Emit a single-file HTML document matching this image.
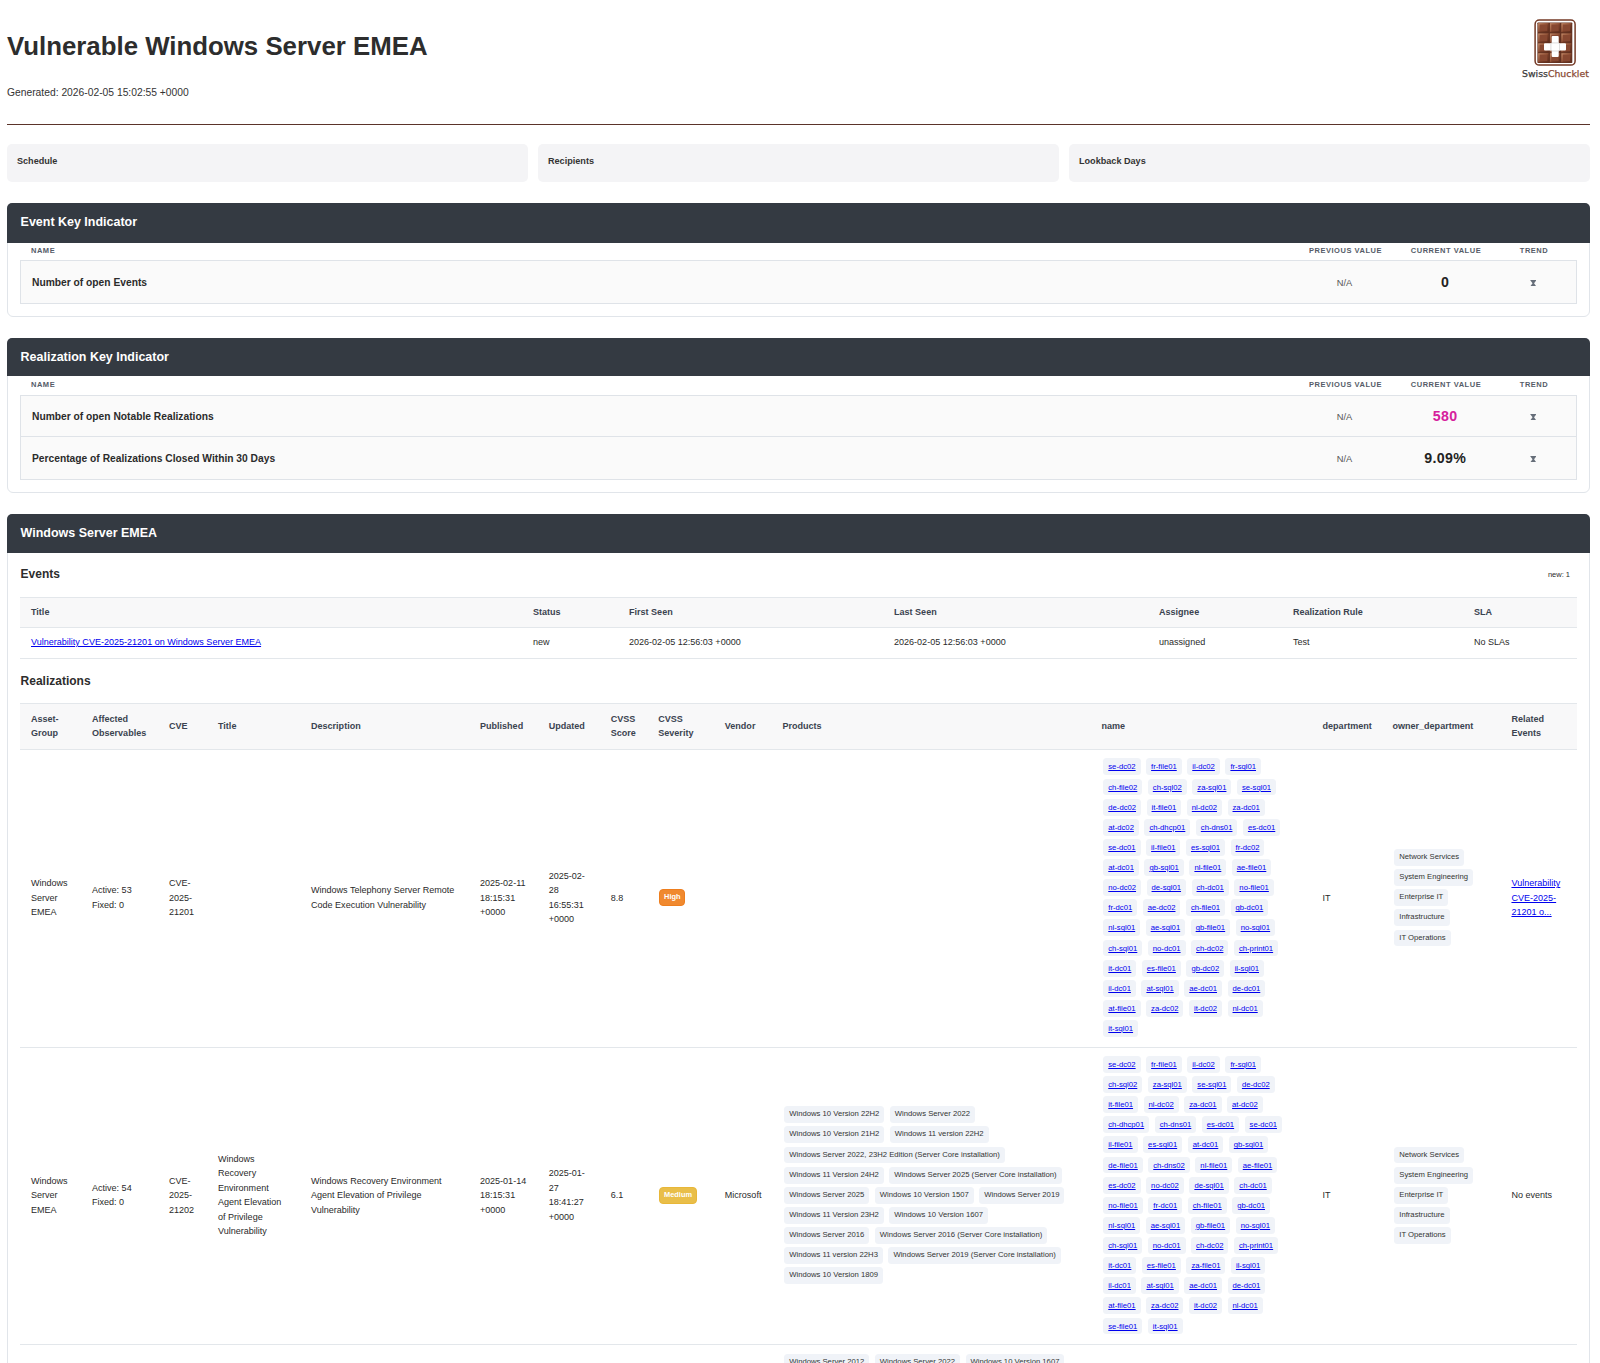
<!DOCTYPE html>
<html lang="en"><head><meta charset="utf-8"><title>Vulnerable Windows Server EMEA</title>
<style>
*{box-sizing:border-box}
html,body{margin:0;padding:0;background:#fff}
body{font-family:"Liberation Sans",sans-serif;color:#2f2f2f;width:1600px;height:1363px;overflow:hidden;position:relative}
#wrap{position:absolute;left:7px;top:0;width:1583px}
h1{margin:0;position:absolute;left:0;top:28.6px;font-size:25.82px;line-height:34px;font-weight:bold;color:#2d2d2d;white-space:nowrap}
.gen{position:absolute;left:0;top:85.6px;font-size:10.3px;line-height:13px;color:#333}
.logo{position:absolute;left:1503px;top:9px}
.hr{position:absolute;left:0;top:124px;width:1583px;height:1px;background:#5b342a}
.infos{position:absolute;left:0;top:144px;width:1583px;display:flex;gap:10px}
.info{flex:1;height:38px;background:#f4f4f6;border-radius:5px;padding:12.3px 10px 0 10px;font-size:9.1px;font-weight:bold;color:#333;line-height:11px}
.card{position:absolute;left:0;width:1583px;border:1px solid #e1e5ea;border-radius:6px;background:#fff}
.chead{height:39px;background:#343a42;color:#fff;font-weight:bold;font-size:12.47px;line-height:37.4px;padding-left:13.6px;margin:-1px -1px 0 -1px;border-radius:5px 5px 0 0}
.cbody{padding:0 12px}
.khead{display:grid;grid-template-columns:1fr 89px 89px 64px;column-gap:11.5px;padding:0 11px 3px 11px;height:18px;align-items:center;font-size:7.5px;font-weight:bold;letter-spacing:.52px;color:#555c68}
.khead .c{text-align:center}
.kbox{border:1px solid #dfe3e8;background:#fafafa}
.krow{display:grid;grid-template-columns:1fr 89px 89px 64px;column-gap:11.5px;padding:0 11px;height:42px;align-items:center}
.k2 .krow{height:40px}
.k2 .krow + .krow{border-top:1px solid #dfe3e8;height:43px}
.kname{font-size:10.25px;font-weight:bold;color:#2b2b2b}
.kprev{font-size:9.3px;color:#555;text-align:center;padding-top:2px}
.kcur{padding-bottom:1px;padding-left:0.35px;letter-spacing:0.35px;font-size:14.2px;font-weight:bold;color:#222;text-align:center}
.kcur.mag{color:#d6209c}
.ktrend{text-align:center;line-height:0;padding-top:2.4px;padding-left:0.2px}
h3{margin:0;font-size:12px;font-weight:bold;color:#2d2d2d;line-height:16px}
table{border-collapse:separate;border-spacing:0;table-layout:fixed;width:1557px;font-size:9.04px;color:#333}
th{background:#f8f8f9;text-align:left;font-weight:bold;color:#3b4350;padding:0 11px 1.4px 11px;line-height:14.2px;border-top:1px solid #e3e7eb;border-bottom:1px solid #e3e7eb;vertical-align:middle}
td{color:#2a2a2a;padding:0 11px 1.4px 11px;line-height:14.4px;border-bottom:1px solid #e3e7eb;vertical-align:middle}
a{color:#0000ee;text-decoration:underline}
.tags{display:flex;flex-wrap:wrap;column-gap:1.9px}
.tag{display:block;background:#f0f3f8;border-radius:3.5px;padding:0 5px 0 5px;margin:0.85px 1.8px 2.4px 1.8px;height:16.9px;line-height:15.6px;font-size:7.7px;color:#333;white-space:nowrap}
.sev{display:inline-block;vertical-align:middle;color:#fff;font-weight:bold;font-size:7.4px;line-height:14.6px;height:17.2px;padding:0 4px;border-radius:4px;margin-left:1px;border:1px solid}
.sev.high{background:#f0892f;border-color:#ee7e1e;padding:0 3.8px}
.sev.med{background:#e9be49;border-color:#e8b738;padding:0 3.8px}
.col .tags{flex-direction:column;align-items:flex-start}
td.tc{padding-bottom:0}
.tag a{position:relative;top:1px}
table.re td:nth-child(6){padding-right:8px}
</style></head><body><div id="wrap">
<h1>Vulnerable Windows Server EMEA</h1>
<div class="gen">Generated: 2026-02-05 15:02:55 +0000</div>
<svg class="logo" width="90" height="74" viewBox="0 0 90 74">
<defs>
<linearGradient id="cg" x1="0" y1="0" x2="1" y2="1"><stop offset="0" stop-color="#c48a68"/><stop offset="0.45" stop-color="#9a5a3d"/><stop offset="0.55" stop-color="#7a3f29"/><stop offset="1" stop-color="#5f2e1d"/></linearGradient>
</defs>
<rect x="25.1" y="11" width="40" height="45.1" rx="4.2" ry="4.2" fill="#fff" stroke="#743a26" stroke-width="1.5"/>
<rect x="27.4" y="13.4" width="34.9" height="40.7" rx="0.8" fill="#5f2f1f"/>
<rect x="28.15" y="14.1" width="10.6" height="9.2" fill="url(#cg)"/><rect x="29.65" y="15.5" width="7.6" height="6.3999999999999995" fill="#874831"/><rect x="39.9" y="14.1" width="10.3" height="9.2" fill="url(#cg)"/><rect x="41.4" y="15.5" width="7.300000000000001" height="6.3999999999999995" fill="#874831"/><rect x="51.3" y="14.1" width="10.2" height="9.2" fill="url(#cg)"/><rect x="52.8" y="15.5" width="7.199999999999999" height="6.3999999999999995" fill="#874831"/><rect x="28.15" y="24.4" width="10.6" height="9.15" fill="url(#cg)"/><rect x="29.65" y="25.799999999999997" width="7.6" height="6.3500000000000005" fill="#874831"/><rect x="39.9" y="24.4" width="10.3" height="9.15" fill="url(#cg)"/><rect x="41.4" y="25.799999999999997" width="7.300000000000001" height="6.3500000000000005" fill="#874831"/><rect x="51.3" y="24.4" width="10.2" height="9.15" fill="url(#cg)"/><rect x="52.8" y="25.799999999999997" width="7.199999999999999" height="6.3500000000000005" fill="#874831"/><rect x="28.15" y="34.3" width="10.6" height="9.2" fill="url(#cg)"/><rect x="29.65" y="35.699999999999996" width="7.6" height="6.3999999999999995" fill="#874831"/><rect x="39.9" y="34.3" width="10.3" height="9.2" fill="url(#cg)"/><rect x="41.4" y="35.699999999999996" width="7.300000000000001" height="6.3999999999999995" fill="#874831"/><rect x="51.3" y="34.3" width="10.2" height="9.2" fill="url(#cg)"/><rect x="52.8" y="35.699999999999996" width="7.199999999999999" height="6.3999999999999995" fill="#874831"/><rect x="28.15" y="44.2" width="10.6" height="9.2" fill="url(#cg)"/><rect x="29.65" y="45.6" width="7.6" height="6.3999999999999995" fill="#874831"/><rect x="39.9" y="44.2" width="10.3" height="9.2" fill="url(#cg)"/><rect x="41.4" y="45.6" width="7.300000000000001" height="6.3999999999999995" fill="#874831"/><rect x="51.3" y="44.2" width="10.2" height="9.2" fill="url(#cg)"/><rect x="52.8" y="45.6" width="7.199999999999999" height="6.3999999999999995" fill="#874831"/>
<path d="M42.7 27h5a1 1 0 0 1 1 1v6.3h6.3a1 1 0 0 1 1 1v5.3a1 1 0 0 1 -1 1h-6.3v5.3a1 1 0 0 1 -1 1h-5a1 1 0 0 1 -1 -1v-5.3h-6.7a1 1 0 0 1 -1 -1v-5.3a1 1 0 0 1 1 -1h6.7v-6.3a1 1 0 0 1 1 -1z" fill="#fff"/>
<path d="M41.7 33.9h7M41.7 42h7M40.9 34.3v7.3M49.5 34.3v7.3" stroke="#d9d9d9" stroke-width="0.9" fill="none"/>
<text x="12" y="68.4" font-family="'DejaVu Sans','Liberation Sans',sans-serif" font-size="8.9" fill="#3a3a3a" stroke="#3a3a3a" stroke-width="0.25" textLength="66.8" lengthAdjust="spacingAndGlyphs">Swiss<tspan fill="#8a4a33" stroke="#8a4a33">Chucklet</tspan></text>
</svg>
<div class="hr"></div>
<div class="infos"><div class="info">Schedule</div><div class="info">Recipients</div><div class="info">Lookback Days</div></div>

<div class="card" style="top:203px;height:114px">
<div class="chead" style="height:40px;line-height:39px">Event Key Indicator</div>
<div class="cbody"><div class="khead" style="height:17px;padding-bottom:2px"><div>NAME</div><div class="c">PREVIOUS VALUE</div><div class="c">CURRENT VALUE</div><div class="c">TREND</div></div><div class="kbox"><div class="krow"><div class="kname">Number of open Events</div><div class="kprev">N/A</div><div class="kcur ">0</div><div class="ktrend"><svg class="hg" viewBox="0 0 7 7" width="6.6" height="6.6"><path d="M0.1 0 H6.9 L4.3 3.5 L6.9 7 H0.1 L2.7 3.5 Z" fill="#666e79"/></svg></div></div></div></div>
</div>

<div class="card" style="top:338px;height:155px">
<div class="chead" style="height:38px;line-height:38.2px">Realization Key Indicator</div>
<div class="cbody"><div class="khead" style="height:19px;padding-bottom:2.8px"><div>NAME</div><div class="c">PREVIOUS VALUE</div><div class="c">CURRENT VALUE</div><div class="c">TREND</div></div><div class="kbox k2"><div class="krow"><div class="kname">Number of open Notable Realizations</div><div class="kprev">N/A</div><div class="kcur mag">580</div><div class="ktrend"><svg class="hg" viewBox="0 0 7 7" width="6.6" height="6.6"><path d="M0.1 0 H6.9 L4.3 3.5 L6.9 7 H0.1 L2.7 3.5 Z" fill="#666e79"/></svg></div></div><div class="krow"><div class="kname">Percentage of Realizations Closed Within 30 Days</div><div class="kprev">N/A</div><div class="kcur ">9.09%</div><div class="ktrend"><svg class="hg" viewBox="0 0 7 7" width="6.6" height="6.6"><path d="M0.1 0 H6.9 L4.3 3.5 L6.9 7 H0.1 L2.7 3.5 Z" fill="#666e79"/></svg></div></div></div></div>
</div>

<div class="card" style="top:514px;height:900px;border-radius:6px 6px 0 0">
<div class="chead" style="line-height:39.6px">Windows Server EMEA</div>
<div class="cbody">
<div class="evh" style="position:relative;height:44px"><h3 style="position:absolute;left:0.6px;top:13.1px">Events</h3><span style="position:absolute;right:7px;top:17px;font-size:7.5px;color:#2a2a2a;line-height:9px">new: 1</span></div>
<table class="ev" style="height:62px">
<colgroup><col style="width:502px"><col style="width:96px"><col style="width:265px"><col style="width:265px"><col style="width:134px"><col style="width:181px"><col style="width:114px"></colgroup>
<tr style="height:31px"><th>Title</th><th>Status</th><th>First Seen</th><th>Last Seen</th><th>Assignee</th><th>Realization Rule</th><th>SLA</th></tr>
<tr style="height:31px"><td><a href="#">Vulnerability CVE-2025-21201 on Windows Server EMEA</a></td><td>new</td><td>2026-02-05 12:56:03 +0000</td><td>2026-02-05 12:56:03 +0000</td><td>unassigned</td><td>Test</td><td>No SLAs</td></tr>
</table>
<div style="position:relative;height:44px"><h3 style="position:absolute;left:0.6px;top:13.8px">Realizations</h3></div>
<table class="re">
<colgroup><col style="width:61px"><col style="width:77px"><col style="width:49px"><col style="width:93px"><col style="width:169px"><col style="width:68.7px"><col style="width:62px"><col style="width:47.6px"><col style="width:66.5px"><col style="width:57.6px"><col style="width:319.1px"><col style="width:221.1px"><col style="width:69.9px"><col style="width:119px"><col style="width:76.5px"></colgroup>
<tr style="height:47px"><th>Asset-Group</th><th>Affected Observables</th><th>CVE</th><th>Title</th><th>Description</th><th>Published</th><th>Updated</th><th>CVSS Score</th><th>CVSS Severity</th><th>Vendor</th><th>Products</th><th>name</th><th>department</th><th>owner_department</th><th>Related Events</th></tr>
<tr style="height:298px"><td>Windows Server EMEA</td><td>Active: 53<br>Fixed: 0</td><td>CVE-2025-21201</td><td></td><td>Windows Telephony Server Remote Code Execution Vulnerability</td><td>2025-02-11 18:15:31 +0000</td><td>2025-02-28 16:55:31 +0000</td><td>8.8</td><td><span class="sev high">High</span></td><td></td><td></td><td class="tc"><div class="tags"><span class="tag"><a href="#">se-dc02</a></span><span class="tag"><a href="#">fr-file01</a></span><span class="tag"><a href="#">il-dc02</a></span><span class="tag"><a href="#">fr-sql01</a></span><span class="tag"><a href="#">ch-file02</a></span><span class="tag"><a href="#">ch-sql02</a></span><span class="tag"><a href="#">za-sql01</a></span><span class="tag"><a href="#">se-sql01</a></span><span class="tag"><a href="#">de-dc02</a></span><span class="tag"><a href="#">it-file01</a></span><span class="tag"><a href="#">nl-dc02</a></span><span class="tag"><a href="#">za-dc01</a></span><span class="tag"><a href="#">at-dc02</a></span><span class="tag"><a href="#">ch-dhcp01</a></span><span class="tag"><a href="#">ch-dns01</a></span><span class="tag"><a href="#">es-dc01</a></span><span class="tag"><a href="#">se-dc01</a></span><span class="tag"><a href="#">il-file01</a></span><span class="tag"><a href="#">es-sql01</a></span><span class="tag"><a href="#">fr-dc02</a></span><span class="tag"><a href="#">at-dc01</a></span><span class="tag"><a href="#">gb-sql01</a></span><span class="tag"><a href="#">nl-file01</a></span><span class="tag"><a href="#">ae-file01</a></span><span class="tag"><a href="#">no-dc02</a></span><span class="tag"><a href="#">de-sql01</a></span><span class="tag"><a href="#">ch-dc01</a></span><span class="tag"><a href="#">no-file01</a></span><span class="tag"><a href="#">fr-dc01</a></span><span class="tag"><a href="#">ae-dc02</a></span><span class="tag"><a href="#">ch-file01</a></span><span class="tag"><a href="#">gb-dc01</a></span><span class="tag"><a href="#">nl-sql01</a></span><span class="tag"><a href="#">ae-sql01</a></span><span class="tag"><a href="#">gb-file01</a></span><span class="tag"><a href="#">no-sql01</a></span><span class="tag"><a href="#">ch-sql01</a></span><span class="tag"><a href="#">no-dc01</a></span><span class="tag"><a href="#">ch-dc02</a></span><span class="tag"><a href="#">ch-print01</a></span><span class="tag"><a href="#">it-dc01</a></span><span class="tag"><a href="#">es-file01</a></span><span class="tag"><a href="#">gb-dc02</a></span><span class="tag"><a href="#">il-sql01</a></span><span class="tag"><a href="#">il-dc01</a></span><span class="tag"><a href="#">at-sql01</a></span><span class="tag"><a href="#">ae-dc01</a></span><span class="tag"><a href="#">de-dc01</a></span><span class="tag"><a href="#">at-file01</a></span><span class="tag"><a href="#">za-dc02</a></span><span class="tag"><a href="#">it-dc02</a></span><span class="tag"><a href="#">nl-dc01</a></span><span class="tag"><a href="#">it-sql01</a></span></div></td><td>IT</td><td class="col tc"><div class="tags"><span class="tag">Network Services</span><span class="tag">System Engineering</span><span class="tag">Enterprise IT</span><span class="tag">Infrastructure</span><span class="tag">IT Operations</span></div></td><td><a href="#">Vulnerability CVE-2025-21201 o...</a></td></tr>
<tr style="height:297px"><td>Windows Server EMEA</td><td>Active: 54<br>Fixed: 0</td><td>CVE-2025-21202</td><td>Windows Recovery Environment Agent Elevation of Privilege Vulnerability</td><td>Windows Recovery Environment Agent Elevation of Privilege Vulnerability</td><td>2025-01-14 18:15:31 +0000</td><td>2025-01-27 18:41:27 +0000</td><td>6.1</td><td><span class="sev med">Medium</span></td><td>Microsoft</td><td class="tc"><div class="tags"><span class="tag">Windows 10 Version 22H2</span><span class="tag">Windows Server 2022</span><span class="tag">Windows 10 Version 21H2</span><span class="tag">Windows 11 version 22H2</span><span class="tag">Windows Server 2022, 23H2 Edition (Server Core installation)</span><span class="tag">Windows 11 Version 24H2</span><span class="tag">Windows Server 2025 (Server Core installation)</span><span class="tag">Windows Server 2025</span><span class="tag">Windows 10 Version 1507</span><span class="tag">Windows Server 2019</span><span class="tag">Windows 11 Version 23H2</span><span class="tag">Windows 10 Version 1607</span><span class="tag">Windows Server 2016</span><span class="tag">Windows Server 2016 (Server Core installation)</span><span class="tag">Windows 11 version 22H3</span><span class="tag">Windows Server 2019 (Server Core installation)</span><span class="tag">Windows 10 Version 1809</span></div></td><td class="tc"><div class="tags"><span class="tag"><a href="#">se-dc02</a></span><span class="tag"><a href="#">fr-file01</a></span><span class="tag"><a href="#">il-dc02</a></span><span class="tag"><a href="#">fr-sql01</a></span><span class="tag"><a href="#">ch-sql02</a></span><span class="tag"><a href="#">za-sql01</a></span><span class="tag"><a href="#">se-sql01</a></span><span class="tag"><a href="#">de-dc02</a></span><span class="tag"><a href="#">it-file01</a></span><span class="tag"><a href="#">nl-dc02</a></span><span class="tag"><a href="#">za-dc01</a></span><span class="tag"><a href="#">at-dc02</a></span><span class="tag"><a href="#">ch-dhcp01</a></span><span class="tag"><a href="#">ch-dns01</a></span><span class="tag"><a href="#">es-dc01</a></span><span class="tag"><a href="#">se-dc01</a></span><span class="tag"><a href="#">il-file01</a></span><span class="tag"><a href="#">es-sql01</a></span><span class="tag"><a href="#">at-dc01</a></span><span class="tag"><a href="#">gb-sql01</a></span><span class="tag"><a href="#">de-file01</a></span><span class="tag"><a href="#">ch-dns02</a></span><span class="tag"><a href="#">nl-file01</a></span><span class="tag"><a href="#">ae-file01</a></span><span class="tag"><a href="#">es-dc02</a></span><span class="tag"><a href="#">no-dc02</a></span><span class="tag"><a href="#">de-sql01</a></span><span class="tag"><a href="#">ch-dc01</a></span><span class="tag"><a href="#">no-file01</a></span><span class="tag"><a href="#">fr-dc01</a></span><span class="tag"><a href="#">ch-file01</a></span><span class="tag"><a href="#">gb-dc01</a></span><span class="tag"><a href="#">nl-sql01</a></span><span class="tag"><a href="#">ae-sql01</a></span><span class="tag"><a href="#">gb-file01</a></span><span class="tag"><a href="#">no-sql01</a></span><span class="tag"><a href="#">ch-sql01</a></span><span class="tag"><a href="#">no-dc01</a></span><span class="tag"><a href="#">ch-dc02</a></span><span class="tag"><a href="#">ch-print01</a></span><span class="tag"><a href="#">it-dc01</a></span><span class="tag"><a href="#">es-file01</a></span><span class="tag"><a href="#">za-file01</a></span><span class="tag"><a href="#">il-sql01</a></span><span class="tag"><a href="#">il-dc01</a></span><span class="tag"><a href="#">at-sql01</a></span><span class="tag"><a href="#">ae-dc01</a></span><span class="tag"><a href="#">de-dc01</a></span><span class="tag"><a href="#">at-file01</a></span><span class="tag"><a href="#">za-dc02</a></span><span class="tag"><a href="#">it-dc02</a></span><span class="tag"><a href="#">nl-dc01</a></span><span class="tag"><a href="#">se-file01</a></span><span class="tag"><a href="#">it-sql01</a></span></div></td><td>IT</td><td class="col tc"><div class="tags"><span class="tag">Network Services</span><span class="tag">System Engineering</span><span class="tag">Enterprise IT</span><span class="tag">Infrastructure</span><span class="tag">IT Operations</span></div></td><td>No events</td></tr>
<tr style="height:298px"><td>Windows Server EMEA</td><td>Active: 54<br>Fixed: 0</td><td>CVE-2025-21203</td><td></td><td></td><td></td><td></td><td></td><td></td><td>Microsoft</td><td style="vertical-align:top;padding-top:8px"><div class="tags"><span class="tag">Windows Server 2012</span><span class="tag">Windows Server 2022</span><span class="tag">Windows 10 Version 1607</span><span class="tag">Windows Server 2016</span><span class="tag">Windows Server 2019</span><span class="tag">Windows Server 2012 R2</span><span class="tag">Windows 10 Version 1809</span><span class="tag">Windows Server 2025</span><span class="tag">Windows 10 Version 22H2</span><span class="tag">Windows 11 Version 24H2</span></div></td><td></td><td></td><td></td><td></td></tr>
</table>
</div></div>
</div></body></html>
